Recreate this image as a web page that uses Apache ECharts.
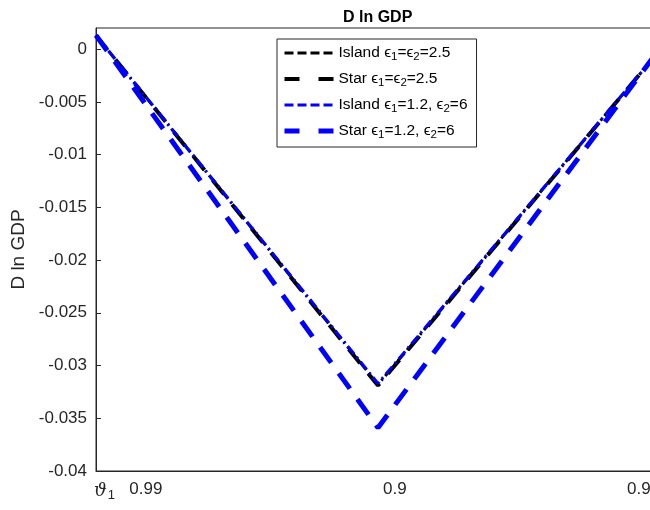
<!DOCTYPE html>
<html>
<head>
<meta charset="utf-8">
<script src="https://cdn.jsdelivr.net/npm/echarts@6/dist/echarts.min.js"></script>
<style>
  html, body { margin: 0; padding: 0; overflow: hidden; background: #fff; }
  #chart { width: 670px; height: 510px; }
</style>
</head>
<body>
<div id="chart"></div>
<script>
// x positions of the samples (axis runs 0..2)
const xVals = [0, 1, 2]

// D ln GDP for each case
const islandA = [0.0013, -0.0318, -0.0001]   // Island e1=e2=2.5
const starA = [0.0013, -0.0319, -0.0001]     // Star e1=e2=2.5
const islandB = [0.0013, -0.0317, -0.0001]   // Island e1=1.2, e2=6
const starB = [0.0013, -0.0359, 0.0001]      // Star e1=1.2, e2=6

// tick positions / labels
const xTickPos = [0.177, 1.06, 1.925]
const xTickLabels = ['0.99', '0.9', '0.9']
const yTicks = [0, -0.005, -0.01, -0.015, -0.02, -0.025, -0.03, -0.035, -0.04]
const yTickLabels = ['0', '-0.005', '-0.01', '-0.015', '-0.02', '-0.025', '-0.03', '-0.035', '-0.04']

const legendNames = [
  '{t|Island ϵ}{s|1}{t|=ϵ}{s|2}{t|=2.5}',
  '{t|Star ϵ}{s|1}{t|=ϵ}{s|2}{t|=2.5}',
  '{t|Island ϵ}{s|1}{t|=1.2, ϵ}{s|2}{t|=6}',
  '{t|Star ϵ}{s|1}{t|=1.2, ϵ}{s|2}{t|=6}',
]

const FONT = 'Liberation Sans, Arial, DejaVu Sans, sans-serif'
const AXIS_COLOR = '#262626'
const DASH_DOT = [10, 4, 2, 4]

function pairs(ys) {
  return xVals.map((x, i) => [x, ys[i]])
}

function lookup(list, labels, v) {
  const i = list.findIndex(t => Math.abs(t - v) < 1e-6)
  return i < 0 ? '' : labels[i]
}

function lineSeries(name, ys, color, width, dash) {
  return {
    name,
    type: 'line',
    data: pairs(ys),
    symbol: 'none',
    silent: true,
    animation: false,
    lineStyle: { color, width, type: dash },
    itemStyle: { color },
  }
}

const chart = echarts.init(document.getElementById('chart'))

const option = {
  animation: false,
  title: {
    text: 'D ln GDP',
    left: 338,
    top: 5,
    textStyle: { fontFamily: FONT, fontSize: 16, fontWeight: 'bold', color: '#000' },
  },
  grid: {
    left: 96,
    right: 10,
    top: 28,
    bottom: 39,
    show: true,
    borderColor: AXIS_COLOR,
    borderWidth: 1,
  },
  legend: {
    orient: 'vertical',
    left: 277,
    top: 39,
    itemWidth: 49,
    itemHeight: 14,
    itemGap: 8,
    padding: [6, 9, 6, 5],
    borderColor: AXIS_COLOR,
    borderWidth: 1,
    backgroundColor: '#fff',
    itemStyle: { opacity: 0 },
    data: [
      { name: legendNames[0], lineStyle: { type: [9, 4], width: 3 } },
      { name: legendNames[1], lineStyle: { type: [15, 19], width: 4 } },
      { name: legendNames[2], lineStyle: { type: [9, 4], width: 3 } },
      { name: legendNames[3], lineStyle: { type: [15, 19], width: 5 } },
    ],
    textStyle: {
      fontFamily: FONT,
      color: '#000',
      rich: {
        t: { fontFamily: FONT, fontSize: 15.5, color: '#000', lineHeight: 20 },
        s: { fontFamily: FONT, fontSize: 11.5, color: '#000', lineHeight: 10, verticalAlign: 'bottom' },
      },
    },
  },
  xAxis: {
    type: 'value',
    min: 0,
    max: 2,
    splitLine: { show: false },
    axisLine: { show: true, onZero: false, lineStyle: { color: AXIS_COLOR } },
    axisTick: { show: false },
    axisLabel: {
      customValues: xTickPos,
      formatter: (v) => lookup(xTickPos, xTickLabels, v),
      fontFamily: FONT,
      fontSize: 17,
      color: AXIS_COLOR,
      margin: 10,
    },
  },
  yAxis: {
    type: 'value',
    min: -0.04,
    max: 0.002,
    name: 'D ln GDP',
    nameLocation: 'middle',
    nameGap: 64,
    nameTextStyle: { fontFamily: FONT, fontSize: 19, color: AXIS_COLOR },
    splitLine: { show: false },
    axisLine: { show: true, lineStyle: { color: AXIS_COLOR } },
    axisTick: {
      show: true,
      inside: true,
      length: 5,
      customValues: yTicks,
      lineStyle: { color: AXIS_COLOR },
    },
    axisLabel: {
      customValues: yTicks,
      formatter: (v) => lookup(yTicks, yTickLabels, v),
      fontFamily: FONT,
      fontSize: 17,
      color: AXIS_COLOR,
      margin: 9,
    },
  },
  graphic: [
    {
      type: 'text',
      left: 94,
      top: 482,
      style: {
        text: '{v|ϑ}{s|1}',
        rich: {
          v: { fontFamily: 'DejaVu Serif, serif', fontStyle: 'italic', fontSize: 18, fill: AXIS_COLOR, lineHeight: 22 },
          s: { fontFamily: FONT, fontSize: 13, fill: AXIS_COLOR, lineHeight: 13, verticalAlign: 'bottom', padding: [0, 0, 0, 1] },
        },
      },
    },
  ],
  series: [
    lineSeries(legendNames[0], islandA, '#000000', 3, DASH_DOT),
    lineSeries(legendNames[1], starA, '#000000', 4, [18, 13]),
    lineSeries(legendNames[2], islandB, '#0000ff', 3, DASH_DOT),
    lineSeries(legendNames[3], starB, '#0000ff', 5, [19, 13]),
  ],
}

chart.setOption(option)
</script>
</body>
</html>
